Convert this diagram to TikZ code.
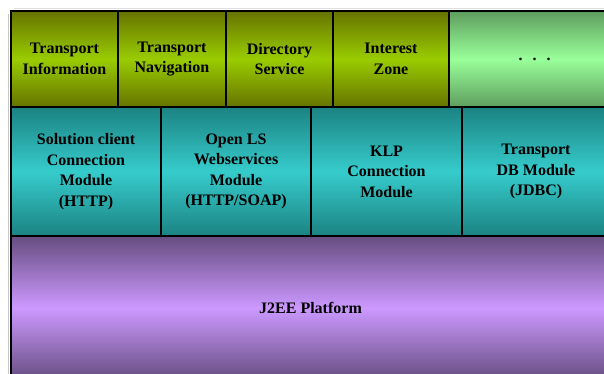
\documentclass[tikz,border=0pt]{standalone}
\usepackage{fontspec}
\setmainfont{Liberation Serif}
\usetikzlibrary{positioning}

\definecolor{olivedark}{HTML}{667300}
\definecolor{olivelight}{HTML}{99CC00}
\definecolor{mintdark}{HTML}{5E9E5E}
\definecolor{mintlight}{HTML}{99FF99}
\definecolor{tealdark}{HTML}{1C8282}
\definecolor{teallight}{HTML}{36CCCC}
\definecolor{purpledark}{HTML}{664D80}
\definecolor{purplelight}{HTML}{CC99FF}

\begin{document}
\begin{tikzpicture}[x=1pt,y=-1pt]
    % layered architecture: services / connection modules / platform
    \tikzset{layer/.style = {shape=rectangle,draw=black,line width=2.6pt,
        anchor=north west,inner sep=0pt,outer sep=0pt,align=center,
        font=\fontsize{16}{20.5}\selectfont\bfseries}}
    \tikzset{service/.style = {layer,minimum height=96pt,
        top color=olivedark,bottom color=olivedark,middle color=olivelight}}
    \tikzset{extra/.style = {layer,minimum height=96pt,
        top color=mintdark,bottom color=mintdark,middle color=mintlight}}
    \tikzset{connector/.style = {layer,minimum height=129pt,
        top color=tealdark,bottom color=tealdark,middle color=teallight}}
    \tikzset{platform/.style = {layer,minimum height=144pt,
        top color=purpledark,bottom color=purpledark,middle color=purplelight}}

    \useasboundingbox (0,0) rectangle (604,374);
    \clip (0,0) rectangle (604,374);

    % shadow of the frame
    \draw[gray!45,line width=1.5pt] (8.5,14) -- (8.5,374);
    \draw[gray!25,line width=1.5pt] (14,8.5) -- (604,8.5);

    % services
    \node[service,minimum width=107pt] (info) at (11,11)  {Transport\\Information};
    \node[service,minimum width=108pt] (navi) at (118,11) {Transport\\Navigation};
    \node[service,minimum width=107pt] (dir)  at (226,11) {Directory\\Service};
    \node[service,minimum width=116pt] (zone) at (333,11) {Interest\\Zone};
    \node[extra,minimum width=171pt]   (more) at (449,11)
        {.\hspace{10pt}.\hspace{10pt}.};

    % connection modules
    \node[connector,minimum width=150pt] (client) at (11,107)
        {Solution client\\Connection\\Module\\(HTTP)};
    \node[connector,minimum width=150pt] (openls) at (161,107)
        {Open LS\\Webservices\\Module\\(HTTP/SOAP)};
    \node[connector,minimum width=151pt] (klp)    at (311,107)
        {KLP\\Connection\\Module};
    \node[connector,minimum width=148pt] (jdbc)   at (462,107)
        {Transport\\DB Module\\(JDBC)};

    % platform
    \node[platform,minimum width=599pt] (j2ee) at (11,236) {J2EE Platform};

\end{tikzpicture}
\end{document}
